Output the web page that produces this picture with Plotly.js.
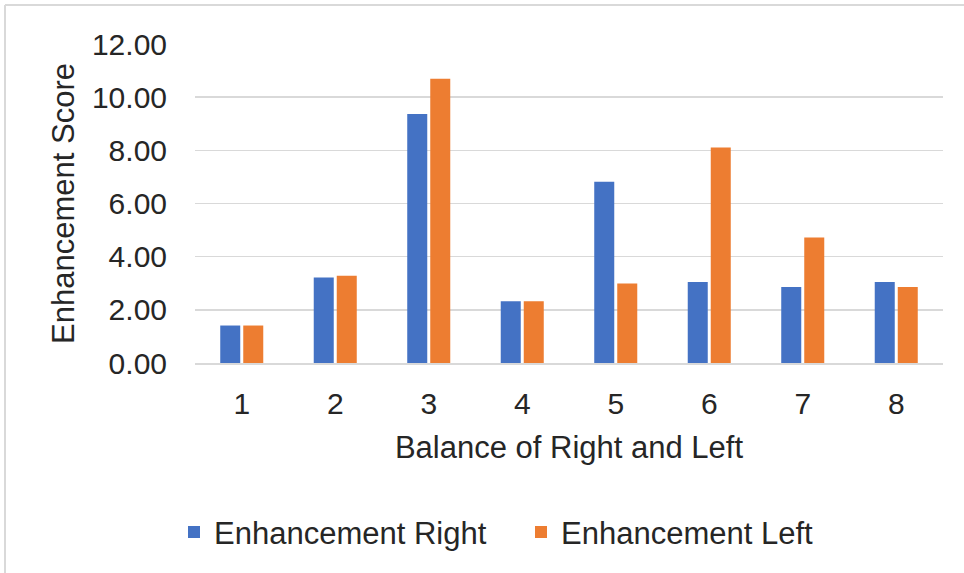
<!DOCTYPE html>
<html>
<head>
<meta charset="utf-8">
<script src="https://cdn.plot.ly/plotly-3.0.1.min.js"></script>
<style>
  html, body { margin: 0; padding: 0; background: #ffffff; }
  #chart { width: 964px; height: 573px; }
</style>
</head>
<body>
<div id="chart"></div>
<script>
// Balance categories along the x axis
const balanceLevels = ['1', '2', '3', '4', '5', '6', '7', '8'];

// Enhancement scores per side
const enhancementRight = [1.41, 3.22, 9.37, 2.32, 6.82, 3.05, 2.86, 3.05];
const enhancementLeft  = [1.41, 3.28, 10.69, 2.32, 2.99, 8.11, 4.72, 2.86];

// Axis ticks
const yTickValues = [0, 2, 4, 6, 8, 10, 12];
const yTickLabels = ['0.00', '2.00', '4.00', '6.00', '8.00', '10.00', '12.00'];

const FONT = '"Liberation Sans", Arial, Helvetica, sans-serif';
const TEXT_COLOR = '#262626';
const GRID_COLOR = '#d9d9d9';

const traces = [
  {
    type: 'bar',
    name: 'Enhancement Right',
    x: balanceLevels,
    y: enhancementRight,
    marker: { color: '#4472C4' },
    hoverinfo: 'x+y+name'
  },
  {
    type: 'bar',
    name: 'Enhancement Left',
    x: balanceLevels,
    y: enhancementLeft,
    marker: { color: '#ED7D31' },
    hoverinfo: 'x+y+name'
  }
];

const layout = {
  width: 964,
  height: 573,
  margin: { l: 195, r: 21, t: 44, b: 210, pad: 0 },
  paper_bgcolor: '#ffffff',
  plot_bgcolor: '#ffffff',
  font: { family: FONT, size: 30, color: TEXT_COLOR },
  barmode: 'group',
  bargap: 0.508,
  bargroupgap: 0.13,
  showlegend: true,
  legend: {
    orientation: 'h',
    xref: 'container',
    yref: 'container',
    x: 174 / 964,
    xanchor: 'left',
    y: 0.071,
    yanchor: 'middle',
    entrywidth: 302,
    entrywidthmode: 'pixels',
    font: { family: FONT, size: 31, color: TEXT_COLOR },
    bgcolor: 'rgba(0,0,0,0)'
  },
  xaxis: {
    type: 'category',
    showgrid: false,
    showline: true,
    linecolor: GRID_COLOR,
    linewidth: 1.5,
    ticks: '',
    ticklabelstandoff: 13,
    tickfont: { family: FONT, size: 30, color: TEXT_COLOR },
    title: {
      text: 'Balance of Right and Left',
      font: { family: FONT, size: 31, color: TEXT_COLOR },
      standoff: 18
    }
  },
  yaxis: {
    range: [0, 12],
    tickvals: yTickValues,
    ticktext: yTickLabels,
    showgrid: true,
    gridcolor: GRID_COLOR,
    gridwidth: 1.5,
    zeroline: false,
    showline: false,
    ticks: '',
    ticklabelstandoff: 27,
    tickfont: { family: FONT, size: 30, color: TEXT_COLOR },
    title: {
      text: 'Enhancement Score',
      font: { family: FONT, size: 31, color: TEXT_COLOR },
      standoff: 8
    }
  },
  // thin frame along the top and left edges of the chart area
  shapes: [
    {
      type: 'line', xref: 'paper', yref: 'paper',
      x0: -0.254, x1: -0.254, y0: 1.1224, y1: -0.7,
      line: { color: GRID_COLOR, width: 2 }
    },
    {
      type: 'line', xref: 'paper', yref: 'paper',
      x0: -0.254, x1: 1.05, y0: 1.1224, y1: 1.1224,
      line: { color: GRID_COLOR, width: 2 }
    }
  ]
};

Plotly.newPlot('chart', traces, layout, { displayModeBar: false, staticPlot: true });
</script>
</body>
</html>
